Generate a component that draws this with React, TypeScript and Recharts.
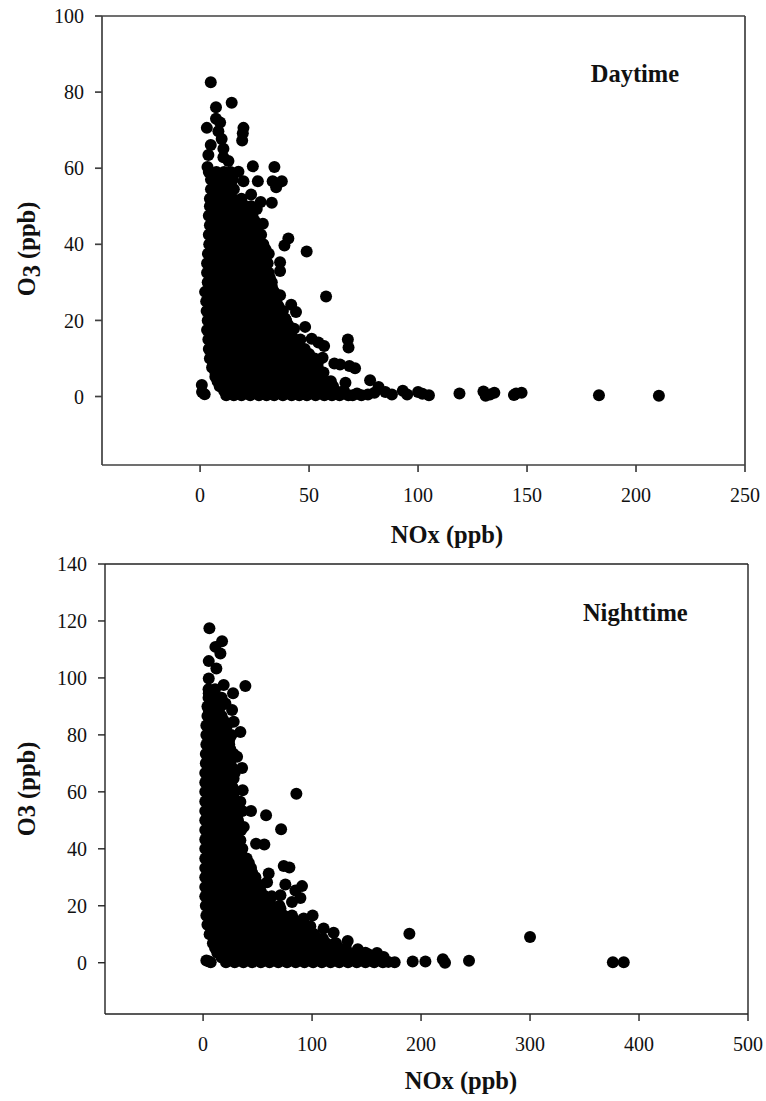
import { ScatterChart, Scatter, XAxis, YAxis, Label, ReferenceDot, ReferenceLine } from 'recharts';

const SERIF = '"Liberation Serif", "Times New Roman", serif';

// daytime, NOx / O3 pairs
const dayUpper = [
  [4.9, 82.6], [14.5, 77.2], [7.3, 76], [7.3, 73], [9.2, 72], [3.1, 70.6], [19.9, 70.6], [19.6, 69.2], [19.3, 67.3],
  [8.4, 69.7], [9.9, 67.7], [4.9, 66.1], [3.8, 63.5], [10.7, 65.1], [10.7, 62.9], [13, 61.9], [3.4, 60.3], [24.2, 60.5],
  [34.1, 60.3], [17.6, 59.1], [19.9, 56.6], [26.5, 56.6], [33.3, 56.6], [37.5, 56.6], [34.9, 55], [23.4, 53.1],
  [27.8, 51.1], [32.9, 50.9], [26, 49.3], [28.8, 45.4], [40.5, 41.5], [38.7, 39.7], [48.9, 38.1], [36.7, 35.3], [36.7, 33],
  [32.9, 30], [57.8, 26.3], [36.7, 26.6], [41.8, 24.1], [44, 22.2], [39, 20.5], [48.2, 18.3], [43.1, 17.8], [51.2, 15.2],
  [67.8, 15], [68.1, 12.9], [54.3, 14.2], [56.9, 13.3], [56.2, 10.2], [61.6, 8.7], [64.2, 8.4], [68.5, 8], [71.1, 7.4],
  [78, 4.3], [81.9, 2.5], [66.7, 3.6], [56.6, 6.3],
];
const dayLow = [
  [0.8, 3], [0.9, 1.2], [2.1, 0.6], [72, 0.8], [74, 0.3], [77, 0.5], [80, 1], [85, 1.2], [88, 0.5], [93, 1.5], [95, 0.5],
  [100, 1.2], [102, 0.7], [105, 0.3], [119, 0.8], [130, 1.3], [131, 0.2], [133, 0.5], [135, 1], [144, 0.4], [145, 0.8],
  [147.5, 1], [183, 0.3], [210.5, 0.2],
];
const dayCore: [number, number[]][] = [
  [0.3, [12, 15.5, 19, 23, 27, 30.5, 34, 38, 42, 45.5, 49, 53, 57, 60.5, 64, 68, 70]],
  [1.5, [11, 14, 18, 21, 25, 29, 32, 36, 40, 44, 47, 51, 55, 59, 62, 66]],
  [2.7, [9, 13, 17, 20.5, 24.5, 28, 32, 36, 39.5, 43, 47, 51, 54.5, 58, 61]],
  [4, [8, 12, 15.5, 19, 23, 26.5, 30.5, 34.5, 38.5, 42, 46, 50, 53.5, 57, 60]],
  [5.2, [7, 11, 14.5, 18.5, 22, 26, 30, 33.5, 37.5, 41, 45, 48.5, 52, 55.5]],
  [6.4, [7, 10.5, 15, 19, 23, 27, 31, 35, 39, 43, 47, 51, 54]],
  [7.6, [5.5, 9, 13, 16.5, 20, 24, 28, 31.5, 35, 39, 43, 47, 50.5, 54]],
  [8.8, [6, 11, 15, 19, 23, 27, 31, 35, 39, 43, 47, 51, 54]],
  [10, [4.5, 8, 12, 15.5, 19.5, 23, 27, 30.5, 34.5, 38, 42, 45.5, 49, 52.5]],
  [11.2, [6, 10, 14, 18, 22, 26, 30, 34, 38, 42, 46, 50]],
  [12.5, [4, 7.5, 11, 15, 18.5, 22.5, 26, 30, 33.5, 37.5, 41, 44.5, 48]],
  [13.7, [5.5, 9.5, 13.5, 17, 21, 25, 29, 33, 37, 41, 45]],
  [15, [3.8, 7, 11, 14.5, 18, 22, 25.5, 29, 33, 36.5, 40, 43.5, 46]],
  [16.2, [5, 9, 13, 17, 21, 25, 29, 33, 37, 41]],
  [17.5, [3.2, 6.5, 10, 14, 17.5, 21, 25, 28.5, 32, 36, 39, 42]],
  [18.7, [5, 9, 13, 17, 21, 25, 29, 33, 37, 40.5]],
  [20, [3.5, 7, 10.5, 14.5, 18, 22, 25.5, 29, 32.5, 36, 39.5]],
  [21.2, [5, 9, 13, 17, 21, 25, 29, 33, 37]],
  [22.5, [3, 6.5, 10, 14, 17.5, 21, 25, 28.5, 32, 35, 38]],
  [23.7, [5, 9, 13, 17, 21, 25, 29, 33, 36]],
  [25, [2.8, 6.5, 10, 13.5, 17, 21, 24.5, 28, 31.5, 35]],
  [26.2, [4.5, 8.5, 12, 16, 20, 24, 28, 32]],
  [27.5, [2.3, 6, 9.5, 13.5, 17, 20.5, 24, 27.5, 31, 34]],
  [28.7, [5, 9, 13, 17, 21, 25, 29, 33]],
  [30, [3.5, 7, 10.5, 14, 18, 21.5, 25, 29, 32.5]],
  [31.2, [5, 9, 13, 17, 21, 25, 29, 32]],
  [32.5, [3.2, 6.5, 10, 14, 17.5, 21, 24.5, 28, 31.5]],
  [33.7, [5, 9, 13, 17, 21, 25, 29]],
  [35, [3.2, 7, 10.5, 14, 17.5, 21, 24.5, 28, 31]],
  [36.2, [5, 9, 13, 17, 21, 25, 29]],
  [37.5, [3.6, 7, 11, 14.5, 18, 21.5, 25, 28.5, 31.5]],
  [38.7, [6, 10, 14, 18, 22, 26, 30]],
  [40, [4.2, 8, 11.5, 15, 18.5, 22, 25.5, 29]],
  [41.2, [6, 10, 14, 18, 22, 26]],
  [42.5, [4, 7.5, 11, 14.5, 18, 21.5, 25, 28]],
  [43.7, [6, 10, 14, 18, 22, 26]],
  [45, [4.5, 8, 11.5, 15, 18.5, 22, 25, 27]],
  [46.2, [6, 10, 14, 18, 22, 25]],
  [47.5, [4, 7.5, 11, 15, 18, 21, 24]],
  [48.7, [6, 10, 14, 18, 21]],
  [50, [4.5, 8, 11.5, 15, 18, 21, 23.5]],
  [51, [6, 10, 14, 18]],
  [52, [4.5, 8, 11.5, 15, 19]],
  [53.2, [6.5, 10, 14]],
  [54.5, [5, 8.5, 12, 15.5]],
  [55.7, [6.5, 10, 14]],
  [57, [5, 8.5, 12, 15]],
  [58, [6.5, 10]],
  [59, [4, 7.5, 11, 14]],
];

// nighttime, bottom panel
const nightUpper = [
  [5.8, 117.4], [17.4, 112.9], [11.3, 110.9], [15.9, 108.6], [5.2, 105.9], [12.2, 103.3], [5.2, 99.8], [38.8, 97.2],
  [18.9, 97.5], [27.5, 94.6], [5.2, 94.6], [20.5, 91], [26.6, 88.7], [5.2, 88.7], [28.1, 84.6], [34.2, 81], [20.5, 82.3],
  [31.2, 72.3], [35.8, 68.4], [28, 64.7], [36.3, 60.6], [85.6, 59.3], [34.2, 56.5], [44, 53.3], [57.8, 51.8], [37.3, 47.7],
  [71.6, 46.9], [34.2, 43], [48.6, 41.8], [56.2, 41.5], [74, 34], [79.2, 33.4], [60.2, 31.3], [58.7, 28.3], [75.5, 27.5],
  [90.8, 26.9], [84.7, 25.4], [89.3, 22.7], [71, 23.7], [81.6, 21.3], [71, 19], [81.6, 16.6], [92.3, 15.5], [100.5, 16.6],
  [98.4, 12.8], [110.6, 12], [119.8, 10.5], [132.7, 7.6], [122, 6.8], [142, 4.7], [159.6, 3.4], [152, 2.9], [165.7, 2],
];
const nightLow = [
  [3, 0.8], [5, 0.5], [7, 0.2], [170, 0.3], [175.8, 0.2], [189.3, 10.2], [192.3, 0.4], [204, 0.4], [220, 1.2], [222, 0],
  [244, 0.7], [300, 9], [376, 0.2], [386, 0.2],
];
const nightCore: [number, number[]][] = [
  [0.2, [21, 29, 37, 45, 53, 61, 69, 77, 85, 93, 101, 109, 117, 125, 133, 141, 149, 157, 165]],
  [1.8, [17, 25, 33, 41, 49, 57, 65, 73, 81, 89, 97, 105, 113, 121, 129, 137, 145, 153, 161]],
  [3.5, [13, 21, 29, 37, 45, 53, 61, 69, 77, 85, 93, 101, 109, 117, 125, 133, 141, 149]],
  [5.2, [11, 19, 27, 35, 43, 51, 59, 67, 75, 83, 91, 99, 107, 115, 123, 131]],
  [6.8, [9, 17, 25, 33, 41, 49, 57, 65, 73, 81, 89, 97, 105, 113, 121]],
  [8.4, [10, 18, 26, 34, 42, 50, 58, 66, 74, 82, 90, 98, 106, 110]],
  [10, [6, 14, 22, 30, 38, 46, 54, 62, 70, 78, 86, 94, 102]],
  [11.6, [8, 16, 24, 32, 40, 48, 56, 64, 72, 80, 88, 96]],
  [13.3, [4, 12, 20, 28, 36, 44, 52, 60, 68, 76, 84, 92]],
  [15, [7, 15, 23, 31, 39, 47, 55, 63, 71, 79, 84]],
  [16.6, [3, 10, 18, 26, 34, 42, 50, 58, 66, 74]],
  [18.3, [6, 14, 22, 30, 38, 46, 54, 62, 70]],
  [20, [2.5, 7, 14, 22, 30, 38, 46, 54, 62, 70]],
  [21.6, [5.5, 13, 21, 29, 37, 45, 53, 61]],
  [23.3, [2, 9, 17, 25, 33, 41, 49, 57, 63]],
  [25, [5, 13, 21, 29, 37, 45, 53]],
  [26.6, [2, 6, 13, 21, 29, 37, 45, 52]],
  [28.3, [5, 9, 17, 25, 33, 41, 49]],
  [30, [2, 9, 17, 25, 33, 41, 48]],
  [31.6, [5, 13, 21, 29, 37, 45]],
  [33.3, [2, 6, 13, 21, 29, 37, 44]],
  [35, [5, 13, 21, 29, 37, 42]],
  [36.6, [2, 9, 17, 25, 33, 40]],
  [38.3, [5, 13, 21, 29, 35]],
  [40, [2, 6, 13, 21, 29, 36]],
  [41.6, [5, 13, 21, 29, 33]],
  [43.3, [2, 9, 17, 25, 32]],
  [45, [5, 9, 17, 25, 31]],
  [46.6, [2, 6, 13, 21, 29, 35]],
  [48.3, [5, 9, 17, 25, 31]],
  [50, [2, 9, 17, 25, 32]],
  [51.6, [5, 9, 17, 25, 31]],
  [53.3, [2, 6, 13, 21, 29, 36]],
  [55, [5, 9, 17, 25, 31]],
  [56.6, [2, 9, 17, 25, 32]],
  [58.3, [5, 13, 21, 27]],
  [60, [2, 6, 13, 21, 29]],
  [61.6, [5, 13, 21, 27]],
  [63.3, [2, 9, 17, 25]],
  [65, [5, 9, 17, 25]],
  [66.6, [2, 6, 13, 21, 29]],
  [68.3, [5, 13, 21, 27]],
  [70, [2.5, 9, 17, 25]],
  [71.6, [5, 13, 21, 25]],
  [73.3, [2.5, 6, 13, 21, 28]],
  [75, [6, 13, 20, 25]],
  [76.6, [3, 9, 17, 24]],
  [78.3, [6, 13, 20, 24]],
  [80, [3, 7, 13, 20, 26]],
  [81.6, [6, 12, 18]],
  [83.3, [3, 9, 16, 22]],
  [85, [7, 13, 19]],
  [86.6, [4, 10, 17]],
  [88.3, [7, 13]],
  [90, [4, 10, 16]],
  [93, [5, 11, 17]],
  [96, [5, 11]],
];

const dayXTicks = [0, 50, 100, 150, 200, 250];
const dayYTicks = [0, 20, 40, 60, 80, 100];
const nightXTicks = [0, 100, 200, 300, 400, 500];
const nightYTicks = [0, 20, 40, 60, 80, 100, 120, 140];

const toPoints = (pairs: number[][], core: [number, number[]][]) => [
  ...pairs.map(([nox, o3]) => ({ nox, o3 })),
  ...core.flatMap(([o3, row]) => row.map((nox) => ({ nox, o3 }))),
];
const dayData = toPoints([...dayUpper, ...dayLow], dayCore);
const nightData = toPoints([...nightUpper, ...nightLow], nightCore);

const tick = { fill: '#111', fontFamily: SERIF, fontSize: 20 };
const dot = (props: any) => <circle cx={props.cx} cy={props.cy} r={6} fill="#000" />;

interface PanelProps {
  top: number;
  height: number;
  margin: { top: number; right: number; bottom: number; left: number };
  data: { nox: number; o3: number }[];
  xDomain: number[];
  yDomain: number[];
  xTicks: number[];
  yTicks: number[];
  note: string;
  noteAt: number[];
  xTitleAt: number[];
  yTitleAt: number[];
  subscript: boolean;
  line: { stroke: string; strokeWidth: number };
}

const Panel = (p: PanelProps) => (
  <div style={{ position: 'absolute', left: 0, top: p.top }}>
    <ScatterChart width={766} height={p.height} margin={p.margin}>
      <XAxis xAxisId="b" type="number" dataKey="nox" domain={p.xDomain} ticks={p.xTicks} interval={0} height={40}
        axisLine={p.line} tickLine={p.line} tickSize={7} tickMargin={16} tick={tick} allowDataOverflow>
        <Label content={() => (
          <text x={p.xTitleAt[0]} y={p.xTitleAt[1]} textAnchor="middle" fontFamily={SERIF} fontSize={24.5} fontWeight="bold" fill="#111">NOx (ppb)</text>
        )} />
      </XAxis>
      <YAxis yAxisId="l" type="number" dataKey="o3" domain={p.yDomain} ticks={p.yTicks} interval={0} width={60}
        axisLine={p.line} tickLine={p.line} tickSize={7} tickMargin={11} tick={tick} allowDataOverflow>
        <Label content={() => (
          <text transform={`translate(${p.yTitleAt[0]},${p.yTitleAt[1]}) rotate(-90)`} textAnchor="middle" fontFamily={SERIF} fontSize={24.5} fontWeight="bold" fill="#111">
            {p.subscript ? <>O<tspan dy={5}>3</tspan><tspan dy={-5}> (ppb)</tspan></> : 'O3 (ppb)'}
          </text>
        )} />
      </YAxis>
      <ReferenceLine xAxisId="b" yAxisId="l" y={p.yDomain[1]} stroke={p.line.stroke} strokeWidth={p.line.strokeWidth} />
      <ReferenceLine xAxisId="b" yAxisId="l" x={p.xDomain[1]} stroke={p.line.stroke} strokeWidth={p.line.strokeWidth} />
      <Scatter xAxisId="b" yAxisId="l" data={p.data} fill="#000" shape={dot} isAnimationActive={false} />
      <ReferenceDot xAxisId="b" yAxisId="l" x={p.noteAt[0]} y={p.noteAt[1]} r={0} fill="none" stroke="none"
        label={{ value: p.note, fontFamily: SERIF, fontSize: 24.5, fontWeight: 'bold', fill: '#111', position: 'center' }} />
    </ScatterChart>
  </div>
);

const App = () => (
  <div style={{ position: 'absolute', left: 0, top: 0, width: 766, height: 1101 }}>
    <Panel top={0} height={550} margin={{ top: 16, right: 21, bottom: 45, left: 42 }} data={dayData}
      xDomain={[-45, 250]} yDomain={[-18, 100]} xTicks={dayXTicks} yTicks={dayYTicks}
      note="Daytime" noteAt={[199.5, 85]} xTitleAt={[447, 543]} yTitleAt={[35, 249]} subscript
      line={{ stroke: '#404040', strokeWidth: 1.7 }} />
    <Panel top={550} height={551} margin={{ top: 14, right: 18, bottom: 47, left: 45 }} data={nightData}
      xDomain={[-90, 500]} yDomain={[-18, 140]} xTicks={nightXTicks} yTicks={nightYTicks}
      note="Nighttime" noteAt={[396.6, 123]} xTitleAt={[461, 539]} yTitleAt={[35, 239]} subscript={false}
      line={{ stroke: '#222', strokeWidth: 1.4 }} />
  </div>
);

export default App;
